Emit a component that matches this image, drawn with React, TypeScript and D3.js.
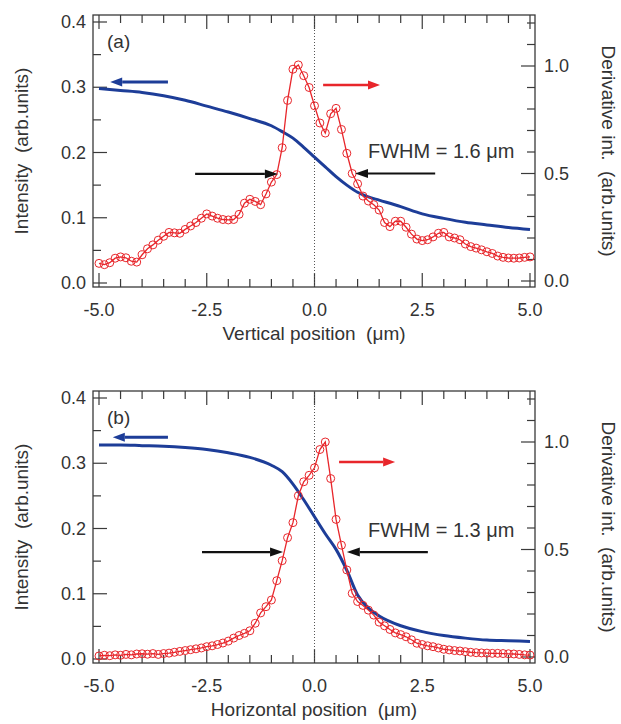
import React from "react";
import * as d3 from "d3";

// ---------- data ----------
const redX = [
  -5, -4.875, -4.75, -4.625, -4.5, -4.375, -4.25, -4.125, -4, -3.875, -3.75, -3.625, -3.5, -3.375, -3.25, -3.125,
  -3, -2.875, -2.75, -2.625, -2.5, -2.375, -2.25, -2.125, -2, -1.875, -1.75, -1.625, -1.5, -1.375, -1.25, -1.125,
  -1, -0.875, -0.75, -0.625, -0.5, -0.375, -0.25, -0.125, 0, 0.125, 0.25, 0.375, 0.5, 0.625, 0.75, 0.875,
  1, 1.125, 1.25, 1.375, 1.5, 1.625, 1.75, 1.875, 2, 2.125, 2.25, 2.375, 2.5, 2.625, 2.75, 2.875,
  3, 3.125, 3.25, 3.375, 3.5, 3.625, 3.75, 3.875, 4, 4.125, 4.25, 4.375, 4.5, 4.625, 4.75, 4.875, 5,
];
const redA = [
  0.082, 0.076, 0.085, 0.106, 0.112, 0.108, 0.092, 0.088, 0.122, 0.15, 0.168, 0.19, 0.208, 0.226, 0.224, 0.222,
  0.24, 0.256, 0.272, 0.292, 0.312, 0.302, 0.292, 0.286, 0.284, 0.286, 0.31, 0.362, 0.38, 0.37, 0.355, 0.405,
  0.46, 0.495, 0.62, 0.84, 0.985, 1.005, 0.955, 0.9, 0.815, 0.735, 0.688, 0.778, 0.803, 0.705, 0.594, 0.5,
  0.452, 0.395, 0.372, 0.355, 0.33, 0.272, 0.253, 0.278, 0.278, 0.25, 0.218, 0.195, 0.188, 0.192, 0.205, 0.222,
  0.226, 0.205, 0.2, 0.192, 0.172, 0.16, 0.153, 0.145, 0.136, 0.128, 0.116, 0.11, 0.107, 0.106, 0.107, 0.11, 0.112,
];
const redB = [
  0.005, 0.008, 0.006, 0.01, 0.008, 0.012, 0.01, 0.014, 0.015, 0.013, 0.016, 0.012, 0.016, 0.018, 0.022, 0.026,
  0.03, 0.034, 0.038, 0.042, 0.048, 0.052, 0.058, 0.065, 0.074, 0.088, 0.1, 0.11, 0.122, 0.157, 0.205, 0.234,
  0.265, 0.355, 0.448, 0.555, 0.625, 0.75, 0.815, 0.845, 0.88, 0.965, 1.0, 0.83, 0.64, 0.52, 0.405, 0.296,
  0.258, 0.24, 0.218, 0.195, 0.162, 0.145, 0.128, 0.112, 0.104, 0.094, 0.08, 0.064, 0.058, 0.052, 0.048, 0.042,
  0.036, 0.033, 0.03, 0.028, 0.025, 0.022, 0.02, 0.019, 0.018, 0.017, 0.017, 0.016, 0.015, 0.014, 0.012, 0.01, 0.009,
];
const blueX = [-5, -4.5, -4, -3.5, -3, -2.5, -2, -1.5, -1, -0.75, -0.5, -0.25, 0, 0.25, 0.5, 0.75, 1, 1.25, 1.5, 2, 2.5, 3, 3.5, 4, 4.5, 5];
const blueA = [0.298, 0.295, 0.292, 0.287, 0.28, 0.271, 0.262, 0.252, 0.241, 0.232, 0.222, 0.208, 0.193, 0.178, 0.163, 0.15, 0.139, 0.132, 0.127, 0.117, 0.106, 0.099, 0.093, 0.089, 0.085, 0.082];
const blueB = [0.328, 0.328, 0.327, 0.326, 0.324, 0.321, 0.316, 0.309, 0.297, 0.287, 0.268, 0.244, 0.218, 0.192, 0.168, 0.136, 0.098, 0.078, 0.066, 0.051, 0.042, 0.036, 0.032, 0.029, 0.028, 0.027];

const xMajor = [-5, -2.5, 0, 2.5, 5];
const xLabels = ["-5.0", "-2.5", "0.0", "2.5", "5.0"];
const leftMajor = [0, 0.1, 0.2, 0.3, 0.4];
const leftLabels = ["0.0", "0.1", "0.2", "0.3", "0.4"];
const rightMajor = [0, 0.5, 1.0];
const rightLabels = ["0.0", "0.5", "1.0"];

// annotation arrows in data units: [xFrom, xTo, value]
const blueArrowA = [-3.4, -4.74, 0.308];
const redArrowA = [0.2, 1.52, 0.912];
const blackLeftA = [-2.77, -0.85, 0.498];
const blackRightA = [2.8, 0.94, 0.5];
const fwhmPosA = [1.24, 0.572];
const blueArrowB = [-3.4, -4.68, 0.34];
const redArrowB = [0.57, 1.87, 0.907];
const blackLeftB = [-2.61, -0.73, 0.488];
const blackRightB = [2.63, 0.75, 0.488];
const fwhmPosB = [1.24, 0.558];

const BLUE = "#1d3d98";
const RED = "#e8262b";
const INK = "#3a3a3a";
const FONT = "'Liberation Sans', Arial, Helvetica, sans-serif";

const FL = 93, FR = 535, FH = 272;

function Arrow({ x1, x2, y, color, w, hl, hw }: any) {
  const dir = x2 > x1 ? 1 : -1;
  const base = x2 - dir * hl;
  return (
    <g>
      <line x1={x1} x2={base} y1={y} y2={y} stroke={color} strokeWidth={w} />
      <polygon points={`${x2},${y} ${base},${y - hw} ${base},${y + hw}`} fill={color} />
    </g>
  );
}

function Panel({ top, red, blue, label, xTitle, fwhm, blueArrow, redArrow, blackL, blackR, fwhmPos }: any) {
  const x = d3.scaleLinear().domain([-5, 5]).range([99, 530]);
  const yL = d3.scaleLinear().domain([0, 0.4]).range([top + 268, top + 7]);
  const yR = d3.scaleLinear().domain([0, 1]).range([top + 266, top + 51]);
  const bottom = top + FH;

  const blueLine = d3.line<number>().x((_, i) => x(blueX[i])).y((d) => yL(d)).curve(d3.curveMonotoneX)(blue);
  const redLine = d3.line<number>().x((_, i) => x(redX[i])).y((d) => yR(d))(red);

  const xMinor = x.ticks(20);
  const lMinor = yL.ticks(8);
  const rMinor = d3.scaleLinear().domain([0, 1.2]).ticks(12);
  const isMaj = (arr: number[], v: number) => arr.some((m) => Math.abs(m - v) < 1e-6);

  return (
    <g>
      {xMinor.map((t) => {
        const L = isMaj(xMajor, t) ? 14 : 8;
        return (
          <g key={"x" + t}>
            <line x1={x(t)} x2={x(t)} y1={bottom} y2={bottom - L} stroke={INK} strokeWidth={1.2} />
            <line x1={x(t)} x2={x(t)} y1={top} y2={top + L} stroke={INK} strokeWidth={1.2} />
          </g>
        );
      })}
      {lMinor.map((t) => {
        const L = isMaj(leftMajor, t) ? 14 : 8;
        return <line key={"l" + t} x1={FL} x2={FL + L} y1={yL(t)} y2={yL(t)} stroke={INK} strokeWidth={1.2} />;
      })}
      {rMinor.map((t) => {
        const L = isMaj(rightMajor, t) ? 14 : 8;
        return <line key={"r" + t} x1={FR} x2={FR - L} y1={yR(t)} y2={yR(t)} stroke={INK} strokeWidth={1.2} />;
      })}
      <rect x={FL} y={top} width={FR - FL} height={FH} fill="none" stroke={INK} strokeWidth={1.3} />
      <line x1={x(0)} x2={x(0)} y1={top} y2={bottom} stroke="#555" strokeWidth={1} strokeDasharray="1,2" />

      {xMajor.map((t, i) => (
        <text key={"xl" + t} x={x(t)} y={bottom + 29} textAnchor="middle" fontSize={18} fill="#333" fontFamily={FONT}>
          {xLabels[i]}
        </text>
      ))}
      {leftMajor.map((t, i) => (
        <text key={"ll" + t} x={86} y={yL(t) + 6} textAnchor="end" fontSize={18} fill="#333" fontFamily={FONT}>
          {leftLabels[i]}
        </text>
      ))}
      {rightMajor.map((t, i) => (
        <text key={"rl" + t} x={544} y={yR(t) + 6} textAnchor="start" fontSize={18} fill="#333" fontFamily={FONT}>
          {rightLabels[i]}
        </text>
      ))}

      <text x={314} y={bottom + 53} textAnchor="middle" fontSize={19} fill="#333" fontFamily={FONT}>
        {xTitle}
      </text>
      <text transform={`translate(28,${top + 136}) rotate(-90)`} textAnchor="middle" fontSize={19} fill="#333" fontFamily={FONT}>
        Intensity{"\u00a0\u00a0"}(arb.units)
      </text>
      <text transform={`translate(602,${top + 136}) rotate(90)`} textAnchor="middle" fontSize={19} fill="#333" fontFamily={FONT}>
        Derivative int.{"\u00a0\u00a0"}(arb.units)
      </text>
      <text x={107} y={top + 33} fontSize={19} fill="#333" fontFamily={FONT}>
        {label}
      </text>

      <path d={blueLine || ""} fill="none" stroke={BLUE} strokeWidth={3} />
      <path d={redLine || ""} fill="none" stroke={RED} strokeWidth={1.3} />
      {red.map((v: number, i: number) => (
        <circle key={"c" + i} cx={x(redX[i])} cy={yR(v)} r={4} fill="none" stroke={RED} strokeWidth={1} />
      ))}

      <Arrow x1={x(blueArrow[0])} x2={x(blueArrow[1])} y={yL(blueArrow[2])} color={BLUE} w={3} hl={12} hw={4.5} />
      <Arrow x1={x(redArrow[0])} x2={x(redArrow[1])} y={yR(redArrow[2])} color={RED} w={2.5} hl={12} hw={4.5} />
      <Arrow x1={x(blackL[0])} x2={x(blackL[1])} y={yR(blackL[2])} color="#111" w={2.2} hl={13} hw={4.5} />
      <Arrow x1={x(blackR[0])} x2={x(blackR[1])} y={yR(blackR[2])} color="#111" w={2.2} hl={13} hw={4.5} />
      <text x={x(fwhmPos[0])} y={yR(fwhmPos[1])} fontSize={20} fill="#333" fontFamily={FONT}>
        {fwhm}
      </text>
    </g>
  );
}

export default function App() {
  return (
    <svg width={621} height={724} style={{ position: "absolute", left: 0, top: 0, background: "#fff" }}>
      <rect x={0} y={0} width={621} height={724} fill="#fff" />
      <Panel
        top={15}
        red={redA}
        blue={blueA}
        label="(a)"
        xTitle={"Vertical position\u00a0\u00a0(\u03bcm)"}
        fwhm={"FWHM = 1.6 \u03bcm"}
        blueArrow={blueArrowA}
        redArrow={redArrowA}
        blackL={blackLeftA}
        blackR={blackRightA}
        fwhmPos={fwhmPosA}
      />
      <Panel
        top={391}
        red={redB}
        blue={blueB}
        label="(b)"
        xTitle={"Horizontal position\u00a0\u00a0(\u03bcm)"}
        fwhm={"FWHM = 1.3 \u03bcm"}
        blueArrow={blueArrowB}
        redArrow={redArrowB}
        blackL={blackLeftB}
        blackR={blackRightB}
        fwhmPos={fwhmPosB}
      />
    </svg>
  );
}
